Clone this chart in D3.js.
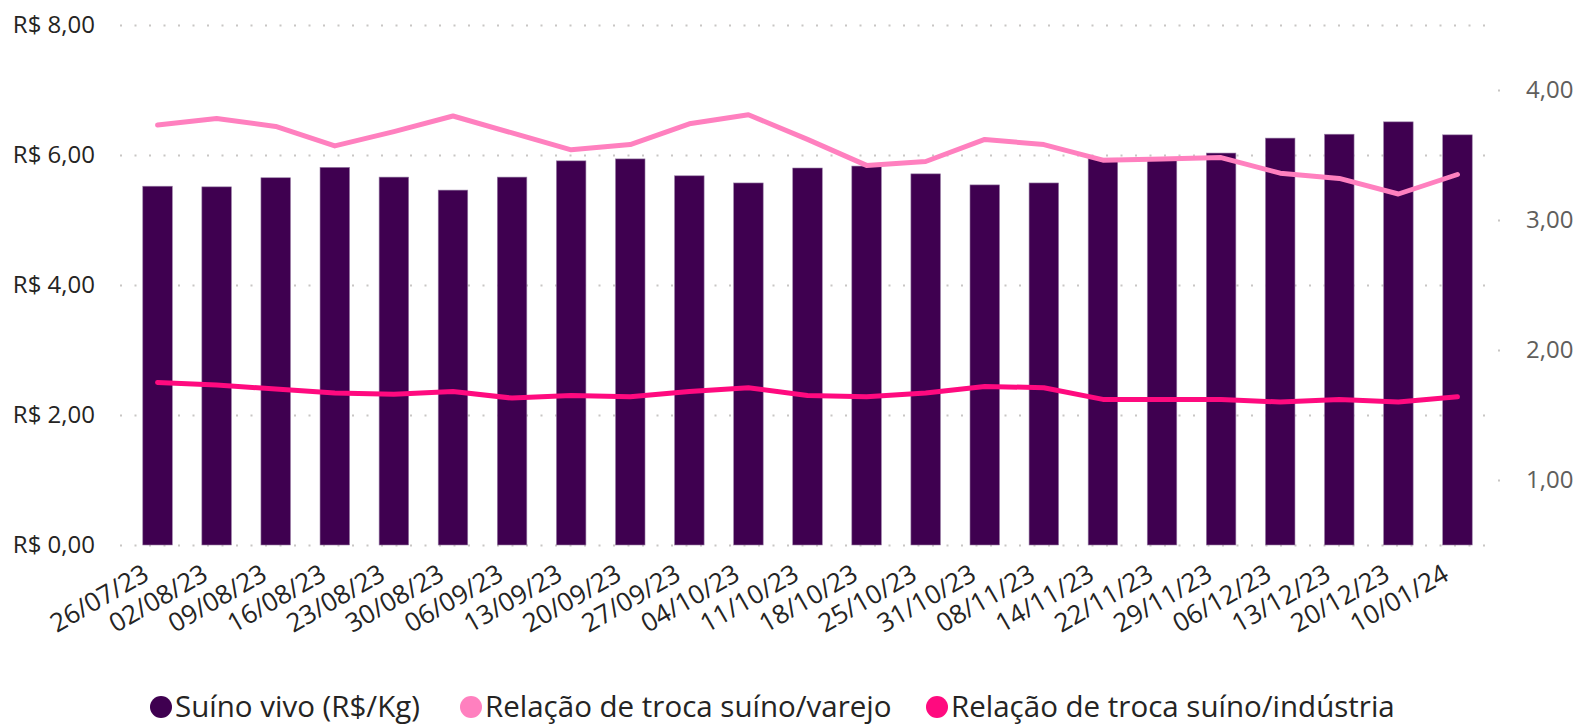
<!DOCTYPE html>
<html>
<head>
<meta charset="utf-8">
<script src="https://cdn.jsdelivr.net/npm/d3@7"></script>
<style>
    body { margin: 0; background: #fff; }
    text { font-family: 'Open Sans', 'Noto Sans', sans-serif; }
</style>
</head>
<body>
<div id="chart"></div>
<script>
// data
const dates = ['26/07/23', '02/08/23', '09/08/23', '16/08/23', '23/08/23', '30/08/23', '06/09/23', '13/09/23',
    '20/09/23', '27/09/23', '04/10/23', '11/10/23', '18/10/23', '25/10/23', '31/10/23', '08/11/23', '14/11/23',
    '22/11/23', '29/11/23', '06/12/23', '13/12/23', '20/12/23', '10/01/24'];
const suinoVivo = [5.52, 5.51, 5.65, 5.81, 5.66, 5.46, 5.66, 5.91, 5.94, 5.68, 5.57, 5.80, 5.83, 5.71, 5.54,
    5.57, 5.95, 5.93, 6.03, 6.26, 6.32, 6.51, 6.31];
const trocaVarejo = [3.73, 3.78, 3.72, 3.57, 3.68, 3.80, 3.67, 3.54, 3.58, 3.74, 3.81, 3.62, 3.42, 3.45, 3.62,
    3.58, 3.46, 3.47, 3.48, 3.36, 3.32, 3.20, 3.35];
const trocaIndustria = [1.75, 1.73, 1.70, 1.67, 1.66, 1.68, 1.63, 1.65, 1.64, 1.68, 1.71, 1.65, 1.64, 1.67, 1.72,
    1.71, 1.62, 1.62, 1.62, 1.60, 1.62, 1.60, 1.64];
const leftTicks = [0, 2, 4, 6, 8];
const rightTicks = [1, 2, 3, 4];
const seriesNames = ['Suíno vivo (R$/Kg)', 'Relação de troca suíno/varejo', 'Relação de troca suíno/indústria'];
const seriesColors = ['#3f0050', '#ff80bf', '#ff0a7f'];

const width = 1578, height = 726;
const plot = { left: 120, right: 1497, top: 25, bottom: 545 };

const svg = d3.select('#chart').append('svg')
    .attr('width', width)
    .attr('height', height);

// scales
const xScale = d3.scaleBand()
    .domain(dates)
    .range([128, 1487])
    .paddingInner(0.5)
    .paddingOuter(0.25);

const yLeft = d3.scaleLinear()
    .domain([0, 8])
    .range([plot.bottom, plot.top]);

const yRight = d3.scaleLinear()
    .domain([0.5, 4.5])
    .range([plot.bottom, plot.top]);

// gridlines + left axis
const leftAxis = d3.axisLeft(yLeft)
    .tickValues(leftTicks)
    .tickSize(-(plot.right - plot.left))
    .tickPadding(25)
    .tickFormat(d => 'R$ ' + d3.format('.2f')(d).replace('.', ','));

const leftG = svg.append('g')
    .attr('transform', `translate(${plot.left},0)`)
    .call(leftAxis)
    .call(g => g.select('.domain').remove());

leftG.selectAll('.tick line')
    .attr('stroke', '#c8c6c4')
    .attr('stroke-width', 2)
    .attr('stroke-dasharray', '2,12.5');

leftG.selectAll('.tick text')
    .attr('fill', '#252423')
    .style('font-size', '24px');

// right axis
const rightAxis = d3.axisRight(yRight)
    .tickValues(rightTicks)
    .tickSize(2)
    .tickPadding(26)
    .tickFormat(d => d3.format('.2f')(d).replace('.', ','));

const rightG = svg.append('g')
    .attr('transform', `translate(${plot.right + 1},0)`)
    .call(rightAxis)
    .call(g => g.select('.domain').remove());

rightG.selectAll('.tick line')
    .attr('stroke', '#c8c6c4')
    .attr('stroke-width', 2);

rightG.selectAll('.tick text')
    .attr('fill', '#605e5c')
    .style('font-size', '24px');

// bars
svg.append('g').selectAll('.bar')
    .data(suinoVivo)
    .join('rect')
    .attr('class', 'bar')
    .attr('x', (d, i) => xScale(dates[i]))
    .attr('y', d => yLeft(d))
    .attr('width', xScale.bandwidth())
    .attr('height', d => yLeft(0) - yLeft(d))
    .attr('fill', seriesColors[0])
    .attr('stroke', '#9a7fa6')
    .attr('stroke-width', 0.6);

// lines
const line = d3.line()
    .x((d, i) => xScale(dates[i]) + xScale.bandwidth() / 2)
    .y(d => yRight(d));

[trocaVarejo, trocaIndustria].forEach((series, k) => {
    svg.append('path')
        .datum(series)
        .attr('fill', 'none')
        .attr('stroke', seriesColors[k + 1])
        .attr('stroke-width', 5)
        .attr('stroke-linejoin', 'round')
        .attr('stroke-linecap', 'round')
        .attr('d', line);
});

// x axis labels
const xAxis = d3.axisBottom(xScale).tickSize(0).tickPadding(0);
const xG = svg.append('g')
    .attr('transform', `translate(0,${plot.bottom})`)
    .call(xAxis)
    .call(g => g.select('.domain').remove());

xG.selectAll('.tick text')
    .attr('fill', '#252423')
    .style('font-size', '26px')
    .attr('text-anchor', 'end')
    .attr('y', 0)
    .attr('dy', 0)
    .attr('transform', 'translate(-7,34) rotate(-30)');

// legend
const legendX = [161, 471, 937];
const legend = svg.append('g');
seriesNames.forEach((name, i) => {
    legend.append('circle')
        .attr('cx', legendX[i])
        .attr('cy', 707)
        .attr('r', 11)
        .attr('fill', seriesColors[i]);
    legend.append('text')
        .attr('x', legendX[i] + 14)
        .attr('y', 717)
        .attr('fill', '#252423')
        .style('font-size', '29.5px')
        .text(name);
});
</script>
</body>
</html>
